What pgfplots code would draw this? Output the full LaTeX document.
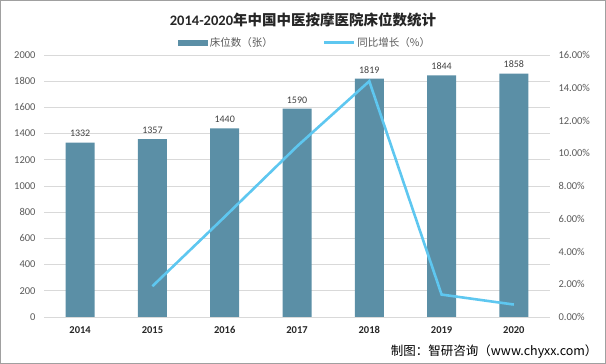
\documentclass[border=0pt]{standalone}
\usepackage{fontspec}
\setmainfont{Carlito}
\newfontfamily\cjk{Noto Sans CJK SC}
\usepackage{pgfplots}
\pgfplotsset{compat=1.18}
\definecolor{barc}{RGB}{91,143,166}
\definecolor{linec}{RGB}{94,199,240}
\definecolor{gridc}{RGB}{217,217,217}
\definecolor{tickc}{RGB}{89,89,89}
\definecolor{framec}{RGB}{160,160,160}
\begin{document}
\begin{tikzpicture}[x=1pt,y=1pt]
\path[use as bounding box] (0,0) rectangle (606,364);
\draw[framec, line width=1pt] (0.5,0.5) rectangle (605.5,363.5);
\begin{axis}[at={(44pt,47pt)}, anchor=south west, scale only axis,
  width=506pt, height=262pt,
  xmin=-0.5, xmax=6.5, ymin=0, ymax=2000,
  ytick={0,200,...,2000}, ymajorgrids,
  grid style={gridc, line width=0.7pt},
  axis line style={draw=none}, major tick length=0pt,
  xtick={0,...,6}, xticklabels={2014,2015,2016,2017,2018,2019,2020},
  /pgf/number format/assume math mode=true,
  /pgf/number format/1000 sep={},
  yticklabel style={font=\fontsize{10.5}{12}\selectfont, text=tickc, xshift=-5pt},
  xticklabel style={font=\fontsize{10.5}{12}\selectfont\bfseries, text=black!85, yshift=-6pt},
  ybar, bar width=29pt,
  nodes near coords,
  every node near coord/.append style={font=\fontsize{10}{12}\selectfont, text=black!75, yshift=2pt},
  legend style={at={(0.5,1)}, anchor=south, xshift=8pt, yshift=3pt, draw=none, fill=none,
    legend columns=2, font=\cjk\fontsize{10.5}{12}\selectfont, text=tickc,
    /tikz/every even column/.append style={column sep=48pt}},
]
\addplot[fill=barc, draw=none,
  legend image code/.code={\fill[barc] (0pt,-3pt) rectangle (30pt,3pt);}]
  coordinates {(0,1332) (1,1357) (2,1440) (3,1590) (4,1819) (5,1844) (6,1858)};
\addlegendentry{床位数（张）}
\addlegendimage{legend image code/.code={\draw[linec, line width=2.6pt] (0pt,0pt) -- (30pt,0pt);}}
\addlegendentry{同比增长（\%）}
\end{axis}
\begin{axis}[at={(44pt,47pt)}, anchor=south west, scale only axis,
  width=506pt, height=262pt,
  xmin=-0.5, xmax=6.5, ymin=0, ymax=16,
  axis y line*=right, axis x line=none,
  axis line style={draw=none}, major tick length=0pt,
  ytick={0,2,...,16},
  yticklabel={\pgfmathprintnumber[fixed,fixed zerofill,precision=2]{\tick}\%},
  /pgf/number format/assume math mode=true,
  yticklabel style={font=\fontsize{10.5}{12}\selectfont, text=tickc, xshift=5pt},
]
\addplot[linec, line width=2.6pt, mark=none]
  coordinates {(1,1.88) (2,6.12) (3,10.42) (4,14.40) (5,1.37) (6,0.76)};
\end{axis}
\node[font=\cjk\bfseries\fontsize{14.5}{16}\selectfont, text=black!85] at (303,344) {{\fontspec{Carlito}\bfseries 2014-2020}年中国中医按摩医院床位数统计};
\node[anchor=east, font=\cjk\fontsize{12.5}{14}\selectfont, text=black] at (601,12) {制图：智研咨询（www.chyxx.com）};
\end{tikzpicture}
\end{document}
